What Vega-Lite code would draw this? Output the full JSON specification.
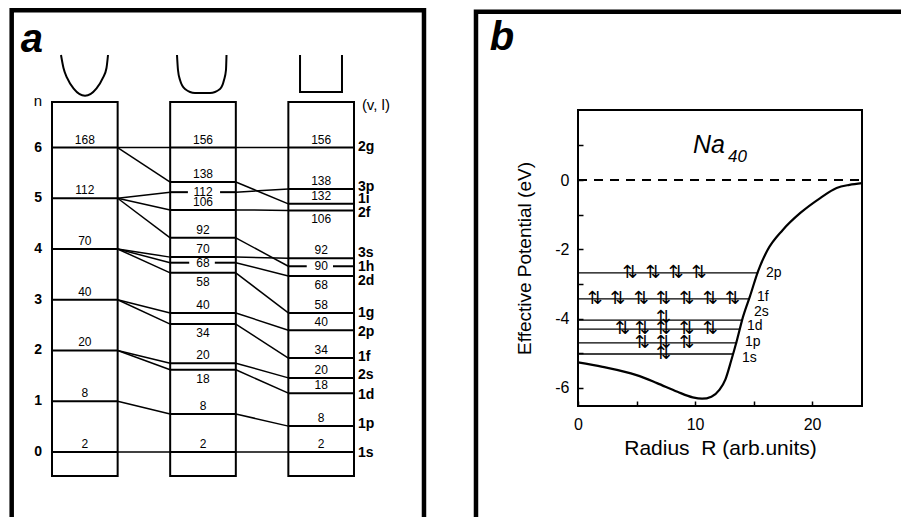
{
  "$schema": "https://vega.github.io/schema/vega-lite/v6.json",
  "background": "white",
  "padding": {"left": 9, "top": 8, "right": 0, "bottom": 0},
  "spacing": 45,
  "config": {
    "font": "Liberation Sans",
    "text": {"font": "Liberation Sans", "color": "black"},
    "axis": {"labelFont": "Liberation Sans", "titleFont": "Liberation Sans", "labelColor": "black", "titleColor": "black", "tickColor": "black", "titleFontWeight": "normal"}
  },
  "datasets": {
    "frameA": [{"x": -0.614, "x2": 5.666, "y": -1.734, "y2": 8.703}],
    "boxes": [
      {"model": "harmonic", "x": 0, "x2": 1, "y": -0.473, "y2": 6.897},
      {"model": "intermediate", "x": 1.8, "x2": 2.8, "y": -0.473, "y2": 6.897},
      {"model": "square", "x": 3.6, "x2": 4.6, "y": -0.473, "y2": 6.897}
    ],
    "levels": [
      {"x": 0, "x2": 1, "y": 0}, {"x": 0, "x2": 1, "y": 1}, {"x": 0, "x2": 1, "y": 2}, {"x": 0, "x2": 1, "y": 3},
      {"x": 0, "x2": 1, "y": 4}, {"x": 0, "x2": 1, "y": 5}, {"x": 0, "x2": 1, "y": 6},
      {"x": 1.8, "x2": 2.8, "y": 6}, {"x": 1.8, "x2": 2.8, "y": 5.32}, {"x": 1.8, "x2": 2.07, "y": 5.12}, {"x": 2.56, "x2": 2.8, "y": 5.12},
      {"x": 1.8, "x2": 2.8, "y": 4.77}, {"x": 1.8, "x2": 2.8, "y": 4.22}, {"x": 1.8, "x2": 2.8, "y": 3.84},
      {"x": 1.8, "x2": 2.09, "y": 3.73}, {"x": 2.48, "x2": 2.8, "y": 3.73}, {"x": 1.8, "x2": 2.8, "y": 3.53},
      {"x": 1.8, "x2": 2.8, "y": 2.74}, {"x": 1.8, "x2": 2.8, "y": 2.52}, {"x": 1.8, "x2": 2.8, "y": 1.75},
      {"x": 1.8, "x2": 2.8, "y": 1.62}, {"x": 1.8, "x2": 2.8, "y": 0.75}, {"x": 1.8, "x2": 2.8, "y": 0},
      {"x": 3.6, "x2": 4.6, "y": 6}, {"x": 3.6, "x2": 4.6, "y": 5.18}, {"x": 3.6, "x2": 4.6, "y": 4.89}, {"x": 3.6, "x2": 4.6, "y": 4.76},
      {"x": 3.6, "x2": 4.6, "y": 3.82}, {"x": 3.6, "x2": 3.88, "y": 3.66}, {"x": 4.28, "x2": 4.6, "y": 3.66},
      {"x": 3.6, "x2": 4.6, "y": 3.47}, {"x": 3.6, "x2": 4.6, "y": 2.74}, {"x": 3.6, "x2": 4.6, "y": 2.40},
      {"x": 3.6, "x2": 4.6, "y": 1.85}, {"x": 3.6, "x2": 4.6, "y": 1.46}, {"x": 3.6, "x2": 4.6, "y": 1.16},
      {"x": 3.6, "x2": 4.6, "y": 0.51}, {"x": 3.6, "x2": 4.6, "y": 0}
    ],
    "conn": [
      {"x": 1, "y": 6, "x2": 1.8, "y2": 6}, {"x": 1, "y": 6, "x2": 1.8, "y2": 5.32},
      {"x": 1, "y": 5, "x2": 1.8, "y2": 5.12}, {"x": 1, "y": 5, "x2": 1.8, "y2": 4.77}, {"x": 1, "y": 5, "x2": 1.8, "y2": 4.22},
      {"x": 1, "y": 4, "x2": 1.8, "y2": 3.84}, {"x": 1, "y": 4, "x2": 1.8, "y2": 3.73}, {"x": 1, "y": 4, "x2": 1.8, "y2": 3.53},
      {"x": 1, "y": 3, "x2": 1.8, "y2": 2.74}, {"x": 1, "y": 3, "x2": 1.8, "y2": 2.52},
      {"x": 1, "y": 2, "x2": 1.8, "y2": 1.75}, {"x": 1, "y": 2, "x2": 1.8, "y2": 1.62},
      {"x": 1, "y": 1, "x2": 1.8, "y2": 0.75}, {"x": 1, "y": 0, "x2": 1.8, "y2": 0},
      {"x": 2.8, "y": 6, "x2": 3.6, "y2": 6}, {"x": 2.8, "y": 5.32, "x2": 3.6, "y2": 4.89}, {"x": 2.8, "y": 5.12, "x2": 3.6, "y2": 5.18},
      {"x": 2.8, "y": 4.77, "x2": 3.6, "y2": 4.76}, {"x": 2.8, "y": 4.22, "x2": 3.6, "y2": 3.66}, {"x": 2.8, "y": 3.84, "x2": 3.6, "y2": 3.82},
      {"x": 2.8, "y": 3.73, "x2": 3.6, "y2": 3.47}, {"x": 2.8, "y": 3.53, "x2": 3.6, "y2": 2.74}, {"x": 2.8, "y": 2.74, "x2": 3.6, "y2": 2.40},
      {"x": 2.8, "y": 2.52, "x2": 3.6, "y2": 1.85}, {"x": 2.8, "y": 1.75, "x2": 3.6, "y2": 1.46}, {"x": 2.8, "y": 1.62, "x2": 3.6, "y2": 1.16},
      {"x": 2.8, "y": 0.75, "x2": 3.6, "y2": 0.51}, {"x": 2.8, "y": 0, "x2": 3.6, "y2": 0}
    ],
    "nums": [
      {"cx": 0.5, "y": 0, "num": "2", "pos": "above"}, {"cx": 0.5, "y": 1, "num": "8", "pos": "above"},
      {"cx": 0.5, "y": 2, "num": "20", "pos": "above"}, {"cx": 0.5, "y": 3, "num": "40", "pos": "above"},
      {"cx": 0.5, "y": 4, "num": "70", "pos": "above"}, {"cx": 0.5, "y": 5, "num": "112", "pos": "above"},
      {"cx": 0.5, "y": 6, "num": "168", "pos": "above"},
      {"cx": 2.3, "y": 0, "num": "2", "pos": "above"}, {"cx": 2.3, "y": 0.75, "num": "8", "pos": "above"},
      {"cx": 2.3, "y": 1.62, "num": "18", "pos": "below"}, {"cx": 2.3, "y": 1.75, "num": "20", "pos": "above"},
      {"cx": 2.3, "y": 2.52, "num": "34", "pos": "below"}, {"cx": 2.3, "y": 2.74, "num": "40", "pos": "above"},
      {"cx": 2.3, "y": 3.53, "num": "58", "pos": "below"}, {"cx": 2.3, "y": 3.73, "num": "68", "pos": "inline"},
      {"cx": 2.3, "y": 3.84, "num": "70", "pos": "above"}, {"cx": 2.3, "y": 4.22, "num": "92", "pos": "above"},
      {"cx": 2.3, "y": 4.77, "num": "106", "pos": "above"}, {"cx": 2.3, "y": 5.12, "num": "112", "pos": "inline"},
      {"cx": 2.3, "y": 5.32, "num": "138", "pos": "above"}, {"cx": 2.3, "y": 6, "num": "156", "pos": "above"},
      {"cx": 4.1, "y": 0, "num": "2", "pos": "above"}, {"cx": 4.1, "y": 0.51, "num": "8", "pos": "above"},
      {"cx": 4.1, "y": 1.16, "num": "18", "pos": "above"}, {"cx": 4.1, "y": 1.46, "num": "20", "pos": "above"},
      {"cx": 4.1, "y": 1.85, "num": "34", "pos": "above"}, {"cx": 4.1, "y": 2.40, "num": "40", "pos": "above"},
      {"cx": 4.1, "y": 2.74, "num": "58", "pos": "above"}, {"cx": 4.1, "y": 3.47, "num": "68", "pos": "below"},
      {"cx": 4.1, "y": 3.66, "num": "90", "pos": "inline"}, {"cx": 4.1, "y": 3.82, "num": "92", "pos": "above"},
      {"cx": 4.1, "y": 4.76, "num": "106", "pos": "below"}, {"cx": 4.1, "y": 4.89, "num": "132", "pos": "above"},
      {"cx": 4.1, "y": 5.18, "num": "138", "pos": "above"}, {"cx": 4.1, "y": 6, "num": "156", "pos": "above"}
    ],
    "states": [
      {"x": 4.66, "y": 6.01, "state": "2g"}, {"x": 4.66, "y": 5.22, "state": "3p"}, {"x": 4.66, "y": 4.99, "state": "1i"},
      {"x": 4.66, "y": 4.71, "state": "2f"}, {"x": 4.66, "y": 3.92, "state": "3s"}, {"x": 4.66, "y": 3.65, "state": "1h"},
      {"x": 4.66, "y": 3.37, "state": "2d"}, {"x": 4.66, "y": 2.74, "state": "1g"}, {"x": 4.66, "y": 2.36, "state": "2p"},
      {"x": 4.66, "y": 1.87, "state": "1f"}, {"x": 4.66, "y": 1.52, "state": "2s"}, {"x": 4.66, "y": 1.12, "state": "1d"},
      {"x": 4.66, "y": 0.55, "state": "1p"}, {"x": 4.66, "y": -0.02, "state": "1s"}
    ],
    "nlab": [
      {"x": -0.213, "y": 0, "t": "0"}, {"x": -0.213, "y": 1, "t": "1"}, {"x": -0.213, "y": 2, "t": "2"},
      {"x": -0.213, "y": 3, "t": "3"}, {"x": -0.213, "y": 4, "t": "4"}, {"x": -0.213, "y": 5, "t": "5"},
      {"x": -0.213, "y": 6, "t": "6"}
    ],
    "headA": [{"x": -0.213, "y": 6.92, "t": "n"}],
    "headV": [{"x": 4.72, "y": 6.84, "t": "(v, l)"}],
    "tagA": [{"x": -0.305, "y": 7.88, "t": "a"}],
    "wells": [
      {"shape": "harmonic", "i": 0, "x": 0.137, "y": 7.823}, {"shape": "harmonic", "i": 1, "x": 0.175, "y": 7.567},
      {"shape": "harmonic", "i": 2, "x": 0.23, "y": 7.37}, {"shape": "harmonic", "i": 3, "x": 0.33, "y": 7.16},
      {"shape": "harmonic", "i": 4, "x": 0.503, "y": 7.02}, {"shape": "harmonic", "i": 5, "x": 0.675, "y": 7.16},
      {"shape": "harmonic", "i": 6, "x": 0.775, "y": 7.37}, {"shape": "harmonic", "i": 7, "x": 0.83, "y": 7.567},
      {"shape": "harmonic", "i": 8, "x": 0.853, "y": 7.823},
      {"shape": "intermediate", "i": 0, "x": 1.904, "y": 7.823}, {"shape": "intermediate", "i": 1, "x": 1.919, "y": 7.527},
      {"shape": "intermediate", "i": 2, "x": 1.95, "y": 7.33}, {"shape": "intermediate", "i": 3, "x": 2.026, "y": 7.153},
      {"shape": "intermediate", "i": 4, "x": 2.178, "y": 7.074}, {"shape": "intermediate", "i": 5, "x": 2.407, "y": 7.074},
      {"shape": "intermediate", "i": 6, "x": 2.559, "y": 7.153}, {"shape": "intermediate", "i": 7, "x": 2.62, "y": 7.33},
      {"shape": "intermediate", "i": 8, "x": 2.65, "y": 7.527}, {"shape": "intermediate", "i": 9, "x": 2.658, "y": 7.823},
      {"shape": "square", "i": 0, "x": 3.778, "y": 7.823}, {"shape": "square", "i": 1, "x": 3.778, "y": 7.094},
      {"shape": "square", "i": 2, "x": 4.417, "y": 7.094}, {"shape": "square", "i": 3, "x": 4.417, "y": 7.823}
    ],
    "frameB": [{"x": -8.718, "x2": 29.2, "y": -10.38, "y2": 4.854}],
    "zero": [{"x": 0, "x2": 24.27, "y": 0}],
    "curve": [
      {"x": 0, "y": -5.26}, {"x": 2.1, "y": -5.39}, {"x": 5.0, "y": -5.63}, {"x": 6.75, "y": -5.86},
      {"x": 8.5, "y": -6.11}, {"x": 9.8, "y": -6.27}, {"x": 10.6, "y": -6.31}, {"x": 11.4, "y": -6.25},
      {"x": 12.1, "y": -6.05}, {"x": 12.6, "y": -5.75}, {"x": 13.1, "y": -5.2}, {"x": 13.6, "y": -4.6},
      {"x": 14.1, "y": -3.95}, {"x": 14.7, "y": -3.35}, {"x": 15.4, "y": -2.62}, {"x": 16.2, "y": -2.02},
      {"x": 17.5, "y": -1.44}, {"x": 19.0, "y": -0.95}, {"x": 20.7, "y": -0.52}, {"x": 22.1, "y": -0.23},
      {"x": 23.2, "y": -0.14}, {"x": 24.27, "y": -0.09}
    ],
    "levB": [
      {"state": "2p", "x": 0, "x2": 15.4, "y": -2.68},
      {"state": "1f", "x": 0, "x2": 14.7, "y": -3.43},
      {"state": "2s", "x": 0, "x2": 14.1, "y": -4.04},
      {"state": "1d", "x": 0, "x2": 13.85, "y": -4.30},
      {"state": "1p", "x": 0, "x2": 13.6, "y": -4.70},
      {"state": "1s", "x": 0, "x2": 13.25, "y": -5.02}
    ],
    "labB": [
      {"state": "2p", "x": 16.07, "y": -2.68}, {"state": "1f", "x": 15.3, "y": -3.37},
      {"state": "2s", "x": 15.04, "y": -3.81}, {"state": "1d", "x": 14.44, "y": -4.21},
      {"state": "1p", "x": 14.27, "y": -4.67}, {"state": "1s", "x": 14.02, "y": -5.13}
    ],
    "pairs": [
      {"state": "2p", "x": 4.44, "y": -2.68}, {"state": "2p", "x": 6.41, "y": -2.68}, {"state": "2p", "x": 8.38, "y": -2.68}, {"state": "2p", "x": 10.34, "y": -2.68},
      {"state": "1f", "x": 1.45, "y": -3.43}, {"state": "1f", "x": 3.4, "y": -3.43}, {"state": "1f", "x": 5.4, "y": -3.43}, {"state": "1f", "x": 7.3, "y": -3.43},
      {"state": "1f", "x": 9.3, "y": -3.43}, {"state": "1f", "x": 11.3, "y": -3.43}, {"state": "1f", "x": 13.2, "y": -3.43},
      {"state": "2s", "x": 7.3, "y": -3.97},
      {"state": "1d", "x": 3.8, "y": -4.30}, {"state": "1d", "x": 5.5, "y": -4.30}, {"state": "1d", "x": 7.3, "y": -4.30}, {"state": "1d", "x": 9.3, "y": -4.30}, {"state": "1d", "x": 11.3, "y": -4.30},
      {"state": "1p", "x": 5.5, "y": -4.70}, {"state": "1p", "x": 7.3, "y": -4.70}, {"state": "1p", "x": 9.3, "y": -4.70},
      {"state": "1s", "x": 7.3, "y": -5.02}
    ],
    "naB": [{"x": 9.83, "y": 0.78, "t": "Na"}],
    "subB": [{"x": 12.82, "y": 0.52, "t": "40"}],
    "tagB": [{"x": -6.5, "y": 3.75, "t": "b"}]
  },
  "hconcat": [
    {
      "width": 302,
      "height": 366,
      "view": {"stroke": null},
      "encoding": {
        "x": {"field": "x", "type": "quantitative", "scale": {"domain": [0, 4.6], "nice": false, "zero": false}, "axis": null},
        "y": {"field": "y", "type": "quantitative", "scale": {"domain": [-0.473, 6.739], "nice": false, "zero": false}, "axis": null}
      },
      "layer": [
        {"data": {"name": "frameA"}, "mark": {"type": "rect", "filled": false, "stroke": "black", "strokeWidth": 4.5}, "encoding": {"x2": {"field": "x2"}, "y2": {"field": "y2"}}},
        {"data": {"name": "boxes"}, "mark": {"type": "rect", "filled": false, "stroke": "black", "strokeWidth": 2}, "encoding": {"x2": {"field": "x2"}, "y2": {"field": "y2"}}},
        {"data": {"name": "levels"}, "mark": {"type": "rule", "strokeWidth": 2, "color": "black"}, "encoding": {"x2": {"field": "x2"}}},
        {"data": {"name": "conn"}, "mark": {"type": "rule", "strokeWidth": 1.5, "color": "black"}, "encoding": {"x2": {"field": "x2"}, "y2": {"field": "y2"}}},
        {"data": {"name": "wells"}, "transform": [{"filter": "datum.shape != 'square'"}], "mark": {"type": "line", "interpolate": "monotone", "strokeWidth": 2, "color": "black"}, "encoding": {"detail": {"field": "shape"}, "order": {"field": "i"}}},
        {"data": {"name": "wells"}, "transform": [{"filter": "datum.shape == 'square'"}], "mark": {"type": "line", "strokeWidth": 2, "color": "black"}, "encoding": {"order": {"field": "i"}}},
        {"data": {"name": "nums"}, "transform": [{"filter": "datum.pos == 'above'"}], "mark": {"type": "text", "fontSize": 12, "dy": -8}, "encoding": {"x": {"field": "cx", "type": "quantitative"}, "text": {"field": "num"}}},
        {"data": {"name": "nums"}, "transform": [{"filter": "datum.pos == 'below'"}], "mark": {"type": "text", "fontSize": 12, "dy": 9}, "encoding": {"x": {"field": "cx", "type": "quantitative"}, "text": {"field": "num"}}},
        {"data": {"name": "nums"}, "transform": [{"filter": "datum.pos == 'inline'"}], "mark": {"type": "text", "fontSize": 12, "dy": 0}, "encoding": {"x": {"field": "cx", "type": "quantitative"}, "text": {"field": "num"}}},
        {"data": {"name": "states"}, "mark": {"type": "text", "align": "left", "fontSize": 14, "fontWeight": "bold"}, "encoding": {"text": {"field": "state"}}},
        {"data": {"name": "nlab"}, "mark": {"type": "text", "fontSize": 14, "fontWeight": "bold"}, "encoding": {"text": {"field": "t"}}},
        {"data": {"name": "headA"}, "mark": {"type": "text", "fontSize": 15}, "encoding": {"text": {"field": "t"}}},
        {"data": {"name": "headV"}, "mark": {"type": "text", "fontSize": 15, "align": "left"}, "encoding": {"text": {"field": "t"}}},
        {"data": {"name": "tagA"}, "mark": {"type": "text", "fontSize": 40, "fontWeight": "bold", "fontStyle": "italic", "baseline": "alphabetic"}, "encoding": {"text": {"field": "t"}}}
      ]
    },
    {
      "width": 284,
      "height": 296,
      "view": {"stroke": "black", "strokeWidth": 2},
      "encoding": {
        "x": {"field": "x", "type": "quantitative", "scale": {"domain": [0, 24.27], "nice": false, "zero": false},
          "axis": {"title": "Radius\u00a0\u00a0R (arb.units)", "values": [0, 5, 10, 15, 20], "labelExpr": "datum.value % 10 === 0 ? '' + datum.value : ''",
            "domain": false, "grid": false, "tickSize": -5, "tickWidth": 1.5, "labelPadding": 15, "labelFontSize": 16, "labelFlush": false, "labelOverlap": false,
            "titleFontSize": 21, "titlePadding": 5}},
        "y": {"field": "y", "type": "quantitative", "scale": {"domain": [-6.52, 2.02], "nice": false, "zero": false},
          "axis": {"title": "Effective Potential (eV)", "values": [1, 0, -1, -2, -3, -4, -5, -6], "labelExpr": "datum.value % 2 === 0 ? '' + datum.value : ''",
            "domain": false, "grid": false, "tickSize": -5, "tickWidth": 1.5, "labelPadding": 14, "labelFontSize": 16, "labelFlush": false, "labelOverlap": false,
            "titleFontSize": 19, "titlePadding": 20}}
      },
      "layer": [
        {"data": {"name": "frameB"}, "mark": {"type": "rect", "filled": false, "stroke": "black", "strokeWidth": 4.5}, "encoding": {"x2": {"field": "x2"}, "y2": {"field": "y2"}}},
        {"data": {"name": "zero"}, "mark": {"type": "rule", "strokeWidth": 2, "color": "black", "strokeDash": [9, 7]}, "encoding": {"x2": {"field": "x2"}}},
        {"data": {"name": "levB"}, "mark": {"type": "rule", "strokeWidth": 1.3, "color": "black"}, "encoding": {"x2": {"field": "x2"}}},
        {"data": {"name": "curve"}, "mark": {"type": "line", "interpolate": "monotone", "strokeWidth": 2.2, "color": "black"}, "encoding": {}},
        {"data": {"name": "pairs"}, "mark": {"type": "text", "text": "⇅", "font": "DejaVu Sans", "fontSize": 18, "color": "black"}, "encoding": {}},
        {"data": {"name": "labB"}, "mark": {"type": "text", "align": "left", "fontSize": 14}, "encoding": {"text": {"field": "state"}}},
        {"data": {"name": "naB"}, "mark": {"type": "text", "align": "left", "baseline": "alphabetic", "fontSize": 25, "fontStyle": "italic"}, "encoding": {"text": {"field": "t"}}},
        {"data": {"name": "subB"}, "mark": {"type": "text", "align": "left", "baseline": "alphabetic", "fontSize": 17, "fontStyle": "italic"}, "encoding": {"text": {"field": "t"}}},
        {"data": {"name": "tagB"}, "mark": {"type": "text", "fontSize": 40, "fontWeight": "bold", "fontStyle": "italic", "baseline": "alphabetic"}, "encoding": {"text": {"field": "t"}}}
      ]
    }
  ]
}
